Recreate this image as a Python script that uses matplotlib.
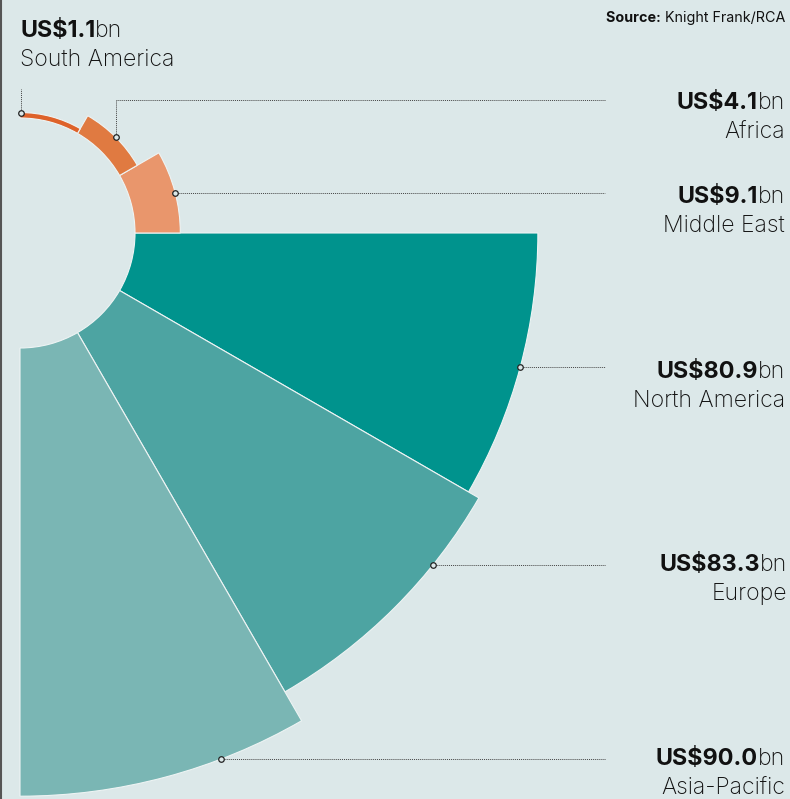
import numpy as np
import matplotlib
matplotlib.use("Agg")
import matplotlib.pyplot as plt

# Regional investment volumes (US$bn), Knight Frank/RCA
regions = ["North America", "Europe", "Asia-Pacific", "Middle East", "Africa", "South America"]
values = [80.9, 83.3, 90.0, 9.1, 4.1, 1.1]
value_labels = ["US$80.9", "US$83.3", "US$90.0", "US$9.1", "US$4.1", "US$1.1"]
sector_mid_deg = [-15, -45, -75, 15, 45, 75]
colors = ["#00938d", "#4da4a2", "#7ab6b4", "#e9966c", "#e07a41", "#de622a"]

# label layout (pixels, top origin)
text_y = [372, 565, 759, 197, 103, 31]
line_y = [367, 565, 759, 193, 100, 89]
text_x = [785, 787, 785, 785, 785, 20]

BG = "#dce8e9"
W, H = 790, 799
cx, cy = 20, 233          # centre of the rose
px_per_bn = 4.98
hole = 115 / px_per_bn    # inner radius in data units
rmax = 120
R = rmax * px_per_bn

plt.rcParams["font.family"] = ["Inter", "DejaVu Sans"]
VAL_W = "bold"
NAME_W = "light"
VAL_FS = 16.8
NAME_FS = 16.6

fig = plt.figure(figsize=(W / 100, H / 100), dpi=100)
fig.patch.set_facecolor(BG)

# polar axes for the wedges
pax = fig.add_axes([(cx - R) / W, (H - cy - R) / H, 2 * R / W, 2 * R / H], projection="polar")
pax.set_ylim(0, rmax)
pax.bar(np.deg2rad(sector_mid_deg), values, width=np.deg2rad(30), bottom=hole,
        color=colors, edgecolor="#eef4f4", linewidth=0.8, align="center")
pax.axis("off")
pax.patch.set_alpha(0)

# overlay in pixel coordinates for annotations
ax = fig.add_axes([0, 0, 1, 1])
ax.set_xlim(0, W)
ax.set_ylim(H, 0)
ax.axis("off")
ax.patch.set_alpha(0)

fig.canvas.draw()
renderer = fig.canvas.get_renderer()


def to_px(theta, r):
    x, y = pax.transData.transform((theta, r))
    return x, H - y


line_kw = dict(color="#444444", lw=0.7, linestyle=(0, (1, 1)))
mark_kw = dict(marker="o", ms=4, mfc=BG, mec="#222222", mew=0.9, zorder=5)
x_end = 605

for i, reg in enumerate(regions):
    r_out = hole + values[i]
    if reg == "Africa":
        th = np.deg2rad(sector_mid_deg[i])
        mx, my = to_px(th, r_out)
        ax.plot([mx, mx, x_end], [my, line_y[i], line_y[i]], **line_kw)
    elif reg == "South America":
        th = np.deg2rad(89.5)
        mx, my = to_px(th, r_out)
        ax.plot([mx, mx], [my, line_y[i]], **line_kw)
    else:
        th = np.arcsin((cy - line_y[i]) / (r_out * px_per_bn))
        mx, my = to_px(th, r_out)
        ax.plot([mx, x_end], [line_y[i], line_y[i]], **line_kw)
    ax.plot(mx, my, **mark_kw)

    tx = text_x[i]
    if reg == "South America":
        t = ax.text(tx, text_y[i], value_labels[i], fontsize=VAL_FS, fontweight=VAL_W,
                    ha="left", va="center", color="#111111")
        bw = t.get_window_extent(renderer=renderer).width
        ax.text(tx + bw, text_y[i], "bn", fontsize=NAME_FS, fontweight=NAME_W, ha="left",
                va="center", color="#111111")
        ax.text(tx, text_y[i] + 29, reg, fontsize=NAME_FS, fontweight=NAME_W, ha="left",
                va="center", color="#111111")
    else:
        t = ax.text(tx, text_y[i], "bn", fontsize=NAME_FS, fontweight=NAME_W, ha="right",
                    va="center", color="#111111")
        bw = t.get_window_extent(renderer=renderer).width
        ax.text(tx - bw, text_y[i], value_labels[i], fontsize=VAL_FS, fontweight=VAL_W,
                ha="right", va="center", color="#111111")
        ax.text(tx, text_y[i] + 29, reg, fontsize=NAME_FS, fontweight=NAME_W, ha="right",
                va="center", color="#111111")

# source note
t = ax.text(785, 18, "Knight Frank/RCA", fontsize=10.3, ha="right", va="center", color="#111111")
sw = t.get_window_extent(renderer=renderer).width
ax.text(785 - sw, 18, "Source: ", fontsize=10.3, fontweight=VAL_W, ha="right", va="center",
        color="#111111")

# left rule
ax.plot([1, 1], [0, H], color="#555555", lw=1.5)

fig.savefig("out.png", dpi=100, facecolor=BG)
